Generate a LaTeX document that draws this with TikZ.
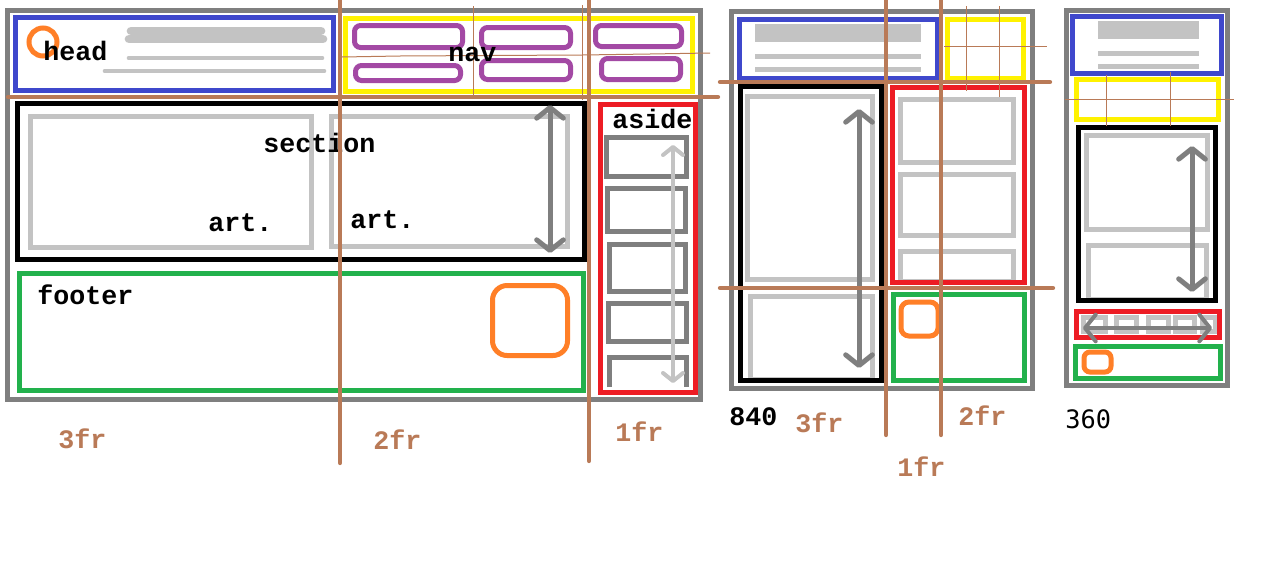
\documentclass[tikz,border=0pt]{standalone}
\usepackage{fontspec}
\setmonofont{Liberation Mono}
\newfontfamily\widthfont{DejaVu Sans Mono}
\usetikzlibrary{arrows.meta}
\definecolor{paintblue}{HTML}{3F48CC}
\definecolor{paintyellow}{HTML}{FFF200}
\definecolor{paintred}{HTML}{ED1C24}
\definecolor{paintgreen}{HTML}{22B14C}
\definecolor{paintorange}{HTML}{FF7F27}
\definecolor{paintpurple}{HTML}{A349A4}
\definecolor{paintgray}{HTML}{7F7F7F}
\definecolor{paintlight}{HTML}{C3C3C3}
\definecolor{paintbrown}{HTML}{B97A57}
\newcommand{\sketchfont}{\fontsize{20}{24}\selectfont\ttfamily\bfseries}

\begin{document}
\begin{tikzpicture}[
    x=0.75pt, y=-0.75pt,
    outer/.style={draw=paintgray, line width=3.75pt},
    headbox/.style={draw=paintblue, line width=3.75pt},
    navbox/.style={draw=paintyellow, line width=3.75pt},
    navitem/.style={draw=paintpurple, line width=3.75pt, rounded corners=4.5pt},
    sectbox/.style={draw=black, line width=3.75pt},
    artbox/.style={draw=paintlight, line width=3.75pt},
    asidebox/.style={draw=paintred, line width=3.75pt},
    itembox/.style={draw=paintgray, line width=3.75pt},
    footbox/.style={draw=paintgreen, line width=3.75pt},
    logo/.style={draw=paintorange, line width=3.75pt},
    textbar/.style={fill=paintlight},
    textline/.style={draw=paintlight, line cap=round},
    scroll/.style={{Straight Barb[length=8pt,width=20pt,round]}-{Straight Barb[length=8pt,width=20pt,round]}, draw=paintgray, line width=3.75pt},
    smallscroll/.style={{Straight Barb[length=6pt,width=15pt,round]}-{Straight Barb[length=6pt,width=15pt,round]}, draw=paintlight, line width=3pt},
    gridline/.style={draw=paintbrown, line width=3.25pt, line cap=round},
    guide/.style={draw=paintbrown, line width=0.75pt},
    boxname/.style={font=\sketchfont, inner sep=0pt, anchor=base west},
    frname/.style={boxname, text=paintbrown}
]
\fill[white] (0,0) rectangle (1262,575);
\useasboundingbox (0,0) rectangle (1262,575);

% Desktop
\draw[outer] (7.5,10.5) rectangle (700.5,399);
\draw[headbox] (15.5,17.5) rectangle (333.5,90.5);
\draw[logo] (43,42) circle [radius=14];
\draw[textline, line width=6.5pt] (131,31) -- (321,31);
\draw[textline, line width=6.5pt] (129,39) -- (323,39);
\draw[textline, line width=3.5pt] (129,58) -- (322,58);
\draw[textline, line width=3.5pt] (105,71) -- (324,71);
\draw[navbox] (345,18) rectangle (692.5,91);
\draw[navitem] (354.5,25.5) rectangle (462.5,47.5);
\draw[navitem] (481.5,27.5) rectangle (570.5,47.5);
\draw[navitem] (595.5,25.5) rectangle (681.5,46.5);
\draw[navitem] (355.5,65.5) rectangle (460.5,80.5);
\draw[navitem] (481.5,60.5) rectangle (570.5,79.5);
\draw[navitem] (601.5,58.5) rectangle (680.5,79.5);
\draw[sectbox] (17,103) rectangle (584,259);
\draw[artbox] (30,116) rectangle (311,247);
\draw[artbox] (331,116) rectangle (567,246);
\draw[footbox] (19.5,273.5) rectangle (583.5,390.5);
\draw[logo, rounded corners=11pt] (492.5,285.5) rectangle (567.5,355.5);
\draw[itembox] (606.5,137.5) rectangle (686,176);
\draw[itembox] (607.5,188.5) rectangle (685,231);
\draw[itembox] (609.5,244.5) rectangle (685,291);
\draw[itembox] (608.5,303.5) rectangle (686,341);
\draw[itembox] (609,387) |- (686,357) -- (686,387);
\draw[asidebox] (600,104) rectangle (695,392);

% Tablet
\draw[outer] (731.5,11.5) rectangle (1032.5,388.5);
\draw[headbox] (739.5,19.5) rectangle (937,78.5);
\fill[textbar] (755,24) rectangle (921,42);
\fill[textbar] (755,54) rectangle (921,59);
\fill[textbar] (755,67) rectangle (921,72);
\draw[navbox] (947.5,19.5) rectangle (1023.5,78.5);
\draw[artbox] (747.5,96.5) rectangle (872.5,279.5);
\draw[artbox] (750,296.5) rectangle (872.5,379);
\draw[sectbox] (740.5,86.5) rectangle (881.5,380);
\draw[artbox] (900.5,99.5) rectangle (1013.5,162.5);
\draw[artbox] (900.5,174.5) rectangle (1013.5,235);
\draw[artbox] (900.5,251.5) rectangle (1013.5,281);
\draw[asidebox] (892,87) rectangle (1024.5,282);
\draw[footbox] (893.5,294.5) rectangle (1024.5,380.5);
\draw[logo, rounded corners=6pt] (901,302) rectangle (938,336);

% Mobile
\draw[outer] (1066.5,10.5) rectangle (1227.5,385.5);
\draw[headbox] (1072.5,16.5) rectangle (1221.5,73.5);
\fill[textbar] (1098,21) rectangle (1199,39);
\fill[textbar] (1098,51) rectangle (1199,56);
\fill[textbar] (1098,64) rectangle (1199,69);
\draw[navbox] (1076.5,79.5) rectangle (1218.5,119.5);
\draw[artbox] (1086.5,135.5) rectangle (1207.5,229.5);
\draw[artbox] (1088.5,245.5) rectangle (1206.5,299);
\draw[sectbox] (1078.5,127.5) rectangle (1215.5,300.5);
\foreach \l/\r in {1083.5/1105.5, 1116.5/1136.5, 1148.5/1168.5, 1175.5/1194.5, 1202.5/1215}
  \draw[artbox] (\l,317.5) rectangle (\r,331.5);
\draw[asidebox] (1076.5,311.5) rectangle (1219.5,337.5);
\draw[footbox] (1075.5,346.5) rectangle (1220.5,378.5);
\draw[logo, rounded corners=4.5pt] (1084,352) rectangle (1111,372);

% Scroll arrows
\coordinate (secup) at (550,105);
\coordinate (secdown) at (550,253);
\coordinate (asideup) at (673,145);
\coordinate (asidedown) at (673,383);
\coordinate (tsecup) at (859,109);
\coordinate (tsecdown) at (859,368);
\coordinate (msecup) at (1192,146);
\coordinate (msecdown) at (1192,292);
\coordinate (mleft) at (1083,328);
\coordinate (mright) at (1212,328);
\draw[scroll] (secup) -- (secdown);
\draw[smallscroll] (asideup) -- (asidedown);
\draw[scroll] (tsecup) -- (tsecdown);
\draw[scroll] (msecup) -- (msecdown);
\draw[scroll, line width=3pt] (mleft) -- (mright);

% Thin guides
\draw[guide] (473,6) -- (473,95);
\draw[guide] (582,5) -- (582,100);
\draw[guide] (342,57) -- (400,56) -- (582,55) -- (650,54) -- (710,53);
\draw[guide] (966,6) -- (966,91);
\draw[guide] (999,6) -- (999,97);
\draw[guide] (944,46) -- (1047,46);
\draw[guide] (1106,75) -- (1106,126);
\draw[guide] (1170,72) -- (1170,126);
\draw[guide] (1065,99) -- (1234,99);

% Labels
\node[boxname] (headname) at (43,60) {head};
\node[boxname] (navname) at (448,61) {nav};
\node[boxname] (sectname) at (263,152) {section};
\node[boxname] (artone) at (208,231) {art.};
\node[boxname] (arttwo) at (350,228) {art.};
\node[boxname] (asidename) at (612,128) {aside};
\node[boxname] (footname) at (37,304) {footer};
\node[frname] (dthree) at (58,448) {3fr};
\node[frname] (dtwo) at (373,449) {2fr};
\node[frname] (done) at (615,441) {1fr};
\node[boxname] (tabwidth) at (729,425) {840};
\node[frname] (tthree) at (795,432) {3fr};
\node[frname] (ttwo) at (958,425) {2fr};
\node[frname] (tone) at (897,476) {1fr};
\node[boxname, font={\fontsize{19}{23}\selectfont\widthfont}] (mobwidth) at (1065,428) {360};

% Grid tracks
\draw[gridline] (340,0) -- (340,463);
\draw[gridline] (589,0) -- (589,461);
\draw[gridline] (8,97) -- (718,97);
\draw[gridline] (886,0) -- (886,435);
\draw[gridline] (941,0) -- (941,435);
\draw[gridline] (720,82) -- (1050,82);
\draw[gridline] (720,288) -- (1053,288);

\end{tikzpicture}
\end{document}
